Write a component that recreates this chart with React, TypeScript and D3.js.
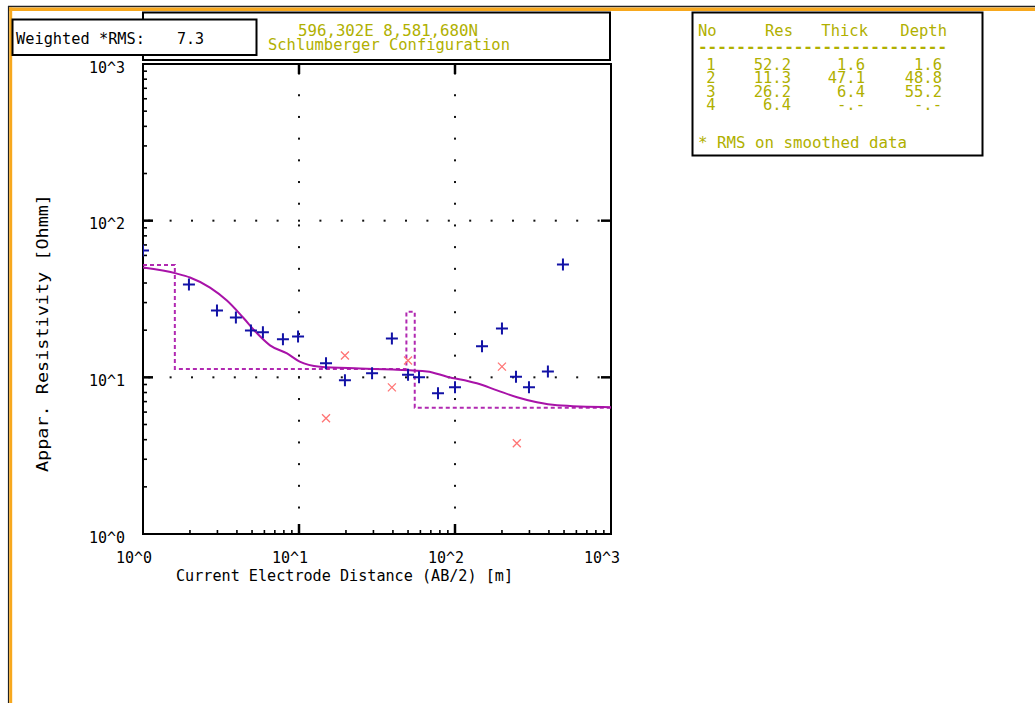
import React from "react";
import * as d3 from "d3";

const W = 1035;
const H = 703;
const PLOT = { left: 143, right: 611, top: 64, bottom: 534 };
const FONT = "'DejaVu Sans Mono', 'Liberation Mono', monospace";
const YELLOW = "#b0b000";
const MAGENTA = "#a812a8";
const BLUE = "#1212a6";
const PINK = "#ff7474";
const ORANGE = "#f7a81e";

// observed apparent resistivity (AB/2 [m], rho [Ohmm])
const obsAB = [1, 1.97, 2.98, 3.94, 4.92, 5.87, 7.89, 9.86, 14.9, 19.7, 29.4, 39.4, 50, 58.8, 77.8, 100, 149, 200, 246, 298, 394, 492];
const obsRho = [64.4, 39.1, 26.7, 24.1, 19.9, 19.4, 17.5, 18.2, 12.3, 9.57, 10.6, 17.7, 10.4, 10.0, 7.91, 8.63, 15.8, 20.5, 10.1, 8.63, 10.9, 52.5];

// points masked out of the inversion
const maskAB = [14.9, 19.7, 39.4, 50, 200, 249];
const maskRho = [5.48, 13.8, 8.63, 12.8, 11.7, 3.8];

// model response curve
const fitAB = [1, 1.65, 2.0, 2.69, 3.45, 4.38, 5.38, 6.52, 8.38, 10.1, 13.6, 24.6, 40, 66.2, 88.9, 138, 186, 250, 335, 451, 1000];
const fitRho = [50.2, 45.9, 43.4, 37.4, 30.9, 24.1, 19.1, 16.0, 14.2, 12.6, 11.7, 11.4, 11.2, 10.9, 10.1, 9.16, 8.26, 7.46, 6.93, 6.63, 6.44];

// layered model
const layerNo = ["1", "2", "3", "4"];
const layerRes = [52.2, 11.3, 26.2, 6.4];
const layerThick = [1.6, 47.1, 6.4, null];
const layerDepth = [1.6, 48.8, 55.2, null];

const decades = [1, 10, 100, 1000];
const decadeLabels = ["10^0", "10^1", "10^2", "10^3"];
const rmsValue = "7.3";
const coordText = "596,302E 8,581,680N";
const configText = "Schlumberger Configuration";
const xTitle = "Current Electrode Distance (AB/2) [m]";
const yTitle = "Appar. Resistivity [Ohmm]";

const x = d3.scaleLog().domain([1, 1000]).range([PLOT.left, PLOT.right]);
const y = d3.scaleLog().domain([1, 1000]).range([PLOT.bottom, PLOT.top]);

const minorVals: number[] = [];
for (const d of [1, 10, 100]) for (let m = 2; m <= 9; m++) minorVals.push(d * m);

const fmt = (v: number | null) => (v == null ? "-.-" : v.toFixed(1));

export default function App() {
  const fitLine = d3.line<number>()
    .x((_, i) => x(fitAB[i]))
    .y(d => y(d))
    .curve(d3.curveMonotoneX)(fitRho) || "";

  const stepX = [1, ...layerDepth.filter(d => d != null) as number[], 1000];
  const stepY = [...layerRes, layerRes[layerRes.length - 1]];
  const stepLine = d3.line<number>()
    .x((_, i) => x(stepX[i]))
    .y(d => y(d))
    .curve(d3.curveStepAfter)(stepY) || "";

  // dotted grid at inner decades
  const dots: [number, number][] = [];
  for (const d of [10, 100]) {
    const gx = x(d);
    for (let k = -30; k <= 30; k++) {
      const py = y(10) + k * 21.7;
      if (py > PLOT.top + 4 && py < PLOT.bottom - 4) dots.push([gx, py]);
    }
    const gy = y(d);
    for (let k = -30; k <= 30; k++) {
      const px = x(10) + k * 21.4;
      if (px > PLOT.left + 4 && px < PLOT.right - 4) dots.push([px, gy]);
    }
  }

  const colNo = 711, colRes = 791, colThick = 865, colDepth = 942;
  const rowY = [69.5, 83, 96.5, 110];

  return (
    <svg width={W} height={H} style={{ position: "absolute", left: 0, top: 0, display: "block" }}
         fontFamily={FONT}>
      <rect width={W} height={H} fill="#fff" />

      {/* window frame */}
      <line x1={8} y1={6.5} x2={W} y2={6.5} stroke="#222" strokeWidth={1.5} />
      <rect x={9} y={7.5} width={W - 9} height={3.5} fill={ORANGE} />
      <line x1={8.5} y1={6} x2={8.5} y2={H} stroke="#222" strokeWidth={1.2} />
      <rect x={9.2} y={7.5} width={3} height={H} fill={ORANGE} />

      {/* header box */}
      <rect x={143} y={12.5} width={467} height={47.5} fill="#fff" stroke="#000" strokeWidth={2} />
      <text x={388} y={36} textAnchor="middle" fontSize={15} fill={YELLOW} textLength={180} lengthAdjust="spacingAndGlyphs">{coordText}</text>
      <text x={389} y={50} textAnchor="middle" fontSize={15} fill={YELLOW} textLength={242} lengthAdjust="spacingAndGlyphs">{configText}</text>

      {/* weighted rms box */}
      <rect x={12.5} y={19.5} width={244} height={35.5} fill="#fff" stroke="#000" strokeWidth={2} />
      <text x={16} y={43.5} fontSize={15} fill="#000" textLength={129} lengthAdjust="spacingAndGlyphs">Weighted *RMS:</text>
      <text x={177} y={43.5} fontSize={15} fill="#000">{rmsValue}</text>

      {/* layer table */}
      <rect x={692.5} y={12.5} width={290} height={143} fill="#fff" stroke="#000" strokeWidth={2} />
      <g fontSize={15.5} fill={YELLOW}>
        <text x={698} y={36}>No</text>
        <text x={793} y={36} textAnchor="end">Res</text>
        <text x={868} y={36} textAnchor="end">Thick</text>
        <text x={947} y={36} textAnchor="end">Depth</text>
        <text x={698} y={51.5} fontWeight="bold" textLength={249} lengthAdjust="spacingAndGlyphs">--------------------------</text>
        {layerNo.map((n, i) => (
          <g key={n}>
            <text x={colNo} y={rowY[i]} textAnchor="middle">{n}</text>
            <text x={colRes} y={rowY[i]} textAnchor="end">{fmt(layerRes[i])}</text>
            <text x={colThick} y={rowY[i]} textAnchor="end">{fmt(layerThick[i])}</text>
            <text x={colDepth} y={rowY[i]} textAnchor="end">{fmt(layerDepth[i])}</text>
          </g>
        ))}
        <text x={698} y={148} textLength={209} lengthAdjust="spacingAndGlyphs">* RMS on smoothed data</text>
      </g>

      {/* plot frame */}
      <rect x={PLOT.left} y={PLOT.top} width={PLOT.right - PLOT.left} height={PLOT.bottom - PLOT.top}
            fill="none" stroke="#000" strokeWidth={2} />

      {/* grid dots */}
      {dots.map(([px, py], i) => (
        <rect key={i} x={px - 1} y={py - 1} width={2} height={2} fill="#111" />
      ))}

      {/* minor ticks */}
      {minorVals.map(v => (
        <g key={v}>
          <line x1={PLOT.left} x2={PLOT.left + 4} y1={y(v)} y2={y(v)} stroke="#000" strokeWidth={1.6} />
          <line x1={x(v)} x2={x(v)} y1={PLOT.bottom} y2={PLOT.bottom - 4} stroke="#000" strokeWidth={1.6} />
        </g>
      ))}
      {/* major ticks */}
      {[10, 100].map(v => (
        <g key={v}>
          <line x1={PLOT.left} x2={PLOT.left + 10} y1={y(v)} y2={y(v)} stroke="#000" strokeWidth={2.5} />
          <line x1={PLOT.right} x2={PLOT.right - 10} y1={y(v)} y2={y(v)} stroke="#000" strokeWidth={2.5} />
          <line x1={x(v)} x2={x(v)} y1={PLOT.bottom} y2={PLOT.bottom - 10} stroke="#000" strokeWidth={2.5} />
          <line x1={x(v)} x2={x(v)} y1={PLOT.top} y2={PLOT.top + 10} stroke="#000" strokeWidth={2.5} />
        </g>
      ))}

      {/* tick labels */}
      {decades.map((v, i) => (
        <g key={v} fontSize={15} fill="#000">
          <text x={125} y={y(v) + 8.5} textAnchor="end">{decadeLabels[i]}</text>
          <text x={x(v) - 9} y={563} textAnchor="middle">{decadeLabels[i]}</text>
        </g>
      ))}
      <text x={176} y={581} fontSize={15} fill="#000" textLength={337} lengthAdjust="spacingAndGlyphs">{xTitle}</text>
      <text transform="translate(48,472) rotate(-90)" x={0} y={0} fontSize={15} fill="#000"
            textLength={278} lengthAdjust="spacingAndGlyphs">{yTitle}</text>

      <defs>
        <clipPath id="plotclip">
          <rect x={PLOT.left} y={PLOT.top} width={PLOT.right - PLOT.left} height={PLOT.bottom - PLOT.top} />
        </clipPath>
      </defs>

      <g clipPath="url(#plotclip)">
        {/* layered model */}
        <path d={stepLine} fill="none" stroke={MAGENTA} strokeWidth={2} strokeDasharray="4 3" opacity={0.9} />
        {/* model response */}
        <path d={fitLine} fill="none" stroke={MAGENTA} strokeWidth={2} />

        {/* masked points */}
        {maskAB.map((ab, i) => {
          const cx = x(ab), cy = y(maskRho[i]);
          return (
            <path key={i} d={`M${cx - 4},${cy - 4}L${cx + 4},${cy + 4}M${cx - 4},${cy + 4}L${cx + 4},${cy - 4}`}
                  stroke={PINK} strokeWidth={1.3} fill="none" />
          );
        })}
        {/* observed points */}
        {obsAB.map((ab, i) => {
          const cx = x(ab), cy = y(obsRho[i]);
          return (
            <path key={i} d={`M${cx - 6},${cy}L${cx + 6},${cy}M${cx},${cy - 6}L${cx},${cy + 6}`}
                  stroke={BLUE} strokeWidth={2} fill="none" />
          );
        })}
      </g>
    </svg>
  );
}
